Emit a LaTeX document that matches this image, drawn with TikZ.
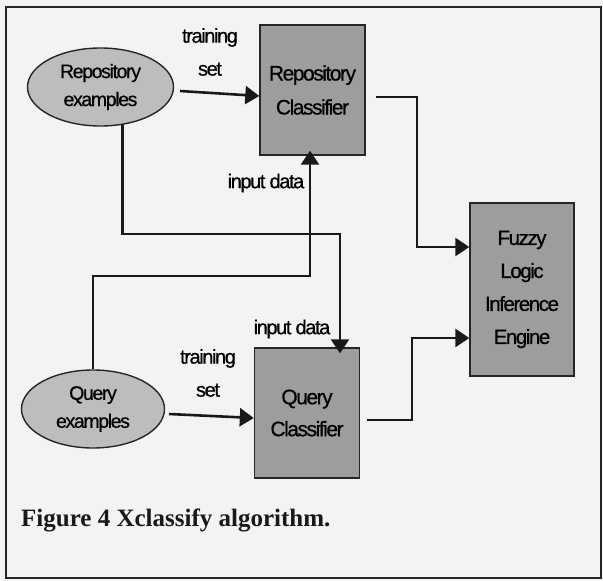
\documentclass[tikz,border=0pt]{standalone}
\usepackage{fontspec}
\setmainfont{Liberation Serif}
\newfontfamily\diagfont[LetterSpace=-7,FakeBold=0.7]{Liberation Sans}
\usetikzlibrary{arrows.meta,shapes.geometric,calc}
\definecolor{paper}{HTML}{F3F3F3}
\definecolor{boxgray}{HTML}{9D9D9D}
\definecolor{ellgray}{HTML}{BDBDBD}
\begin{document}
\begin{tikzpicture}[x=1pt,y=-1pt,
  every node/.style={font=\diagfont\fontsize{20}{33}\selectfont, align=center, inner sep=0pt, text=black},
  proc/.style={draw=black!85, line width=1.4pt, fill=boxgray, minimum width=105pt, minimum height=130pt, font=\diagfont\fontsize{21}{34}\selectfont},
  src/.style={ellipse, draw=black!85, line width=1.4pt, fill=ellgray, font=\diagfont\fontsize{19.5}{28}\selectfont},
  link/.style={draw=black!90, line width=2.6pt, -{Triangle[length=14pt,width=18pt]}},
  caption/.style={font=\rmfamily\bfseries\fontsize{25}{30}\selectfont, text=black!90}
]
% paper and frame
\fill[paper] (0,0) rectangle (603,581);
\useasboundingbox (0,0) rectangle (603,581);
\draw[black!85, line width=1.7pt] (6,7) rectangle (601,578);

% sources and processing blocks
\node[src, minimum width=146pt, minimum height=78pt] (repex) at (100.5,87) {Repository\\examples};
\node[src, minimum width=143pt, minimum height=78pt] (qex) at (93,409) {Query\\examples};
\node[proc] (repcl) at (312.5,90) {Repository\\Classifier};
\node[proc, font=\diagfont\fontsize{21}{32}\selectfont] (qcl) at (307,413) {Query\\Classifier};
\node[proc, minimum width=104pt, minimum height=173pt, font=\diagfont\fontsize{20.5}{33}\selectfont] (fuzzy) at (522,289.5) {Fuzzy\\Logic\\Inference\\Engine};

% labels
\node (lt1) at (210,52) {training\\set};
\node (li1) at (266,183) {input data};
\node (li2) at (292,329) {input data};
\node (lt2) at (208,373) {training\\set};
\node[caption, anchor=west] (cap) at (21,520) {Figure 4 Xclassify algorithm.};

% routing points
\coordinate (t1s) at (180,91);
\coordinate (t2s) at (169,414);
\coordinate (r1) at (340,234);
\coordinate (q1) at (310,276);
\coordinate (rc) at (417,0);
\coordinate (qc) at (412,0);
\coordinate (s5) at ($(repcl.east)+(10,7)$);
\coordinate (s6) at ($(qcl.east)+(7,7)$);
\coordinate (f1) at ($(fuzzy.west)+(0,-42.5)$);
\coordinate (f2) at ($(fuzzy.west)+(0,48.5)$);

% connectors
\draw[link] (t1s) -- ($(repcl.west)+(0,6)$);
\draw[link] (t2s) -- ($(qcl.west)+(0,5)$);
\draw[link, shorten >=-6pt] (repex.-60) |- (r1) -- (r1 |- qcl.north);
\draw[link, shorten >=-5pt] (qex.north) |- (q1) -- (q1 |- repcl.south);
\draw[link] (s5) -| (rc |- f1) -- (f1);
\draw[link] (s6) -| (qc |- f2) -- (f2);
\end{tikzpicture}
\end{document}
